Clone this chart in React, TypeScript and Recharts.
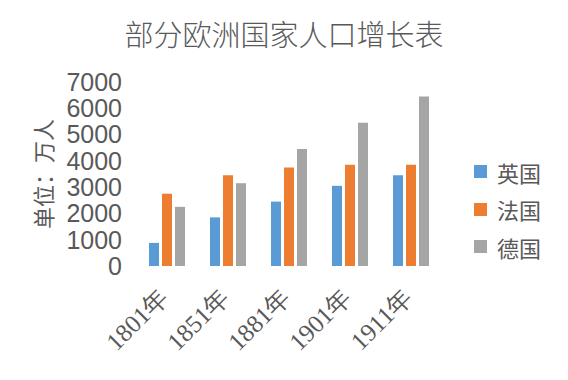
import React from "react";
import { BarChart, Bar, XAxis, YAxis, Legend } from "recharts";

const categories = ["1801年", "1851年", "1881年", "1901年", "1911年"];
const britain = [880, 1850, 2450, 3050, 3450];
const france = [2750, 3450, 3750, 3850, 3850];
const germany = [2250, 3150, 4450, 5450, 6450];
const yTicks = [0, 1000, 2000, 3000, 4000, 5000, 6000, 7000];
const seriesNames = ["英国", "法国", "德国"];
const seriesColors = ["#5B9BD5", "#ED7D31", "#A5A5A5"];

const data = categories.map((c, i) => ({
  name: c,
  英国: britain[i],
  法国: france[i],
  德国: germany[i],
}));

const GRAY = "#595959";

const XTick = (props: any) => {
  const { x, y, payload } = props;
  const ax = x + 3;
  const ay = y + 25;
  return (
    <text
      x={ax}
      y={ay}
      transform={`rotate(-45, ${ax}, ${ay})`}
      textAnchor="end"
      fill={GRAY}
      style={{ fontSize: 25, fontFamily: "'Liberation Serif', 'Times New Roman', serif" }}
    >
      {payload.value}
    </text>
  );
};

const LegendContent = (props: any) => {
  const items = [...(props.payload || [])].sort(
    (a: any, b: any) => seriesNames.indexOf(a.value) - seriesNames.indexOf(b.value)
  );
  return (
    <div>
      {items.map((p: any) => (
        <div
          key={p.value}
          style={{ display: "flex", alignItems: "center", height: 37.5 }}
        >
          <span
            style={{
              display: "inline-block",
              width: 13,
              height: 13,
              background: p.color,
              marginRight: 10,
            }}
          />
          <span
            style={{
              fontSize: 22,
              color: GRAY,
              fontFamily: "'Noto Sans CJK SC', sans-serif",
              lineHeight: "22px",
            }}
          >
            {p.value}
          </span>
        </div>
      ))}
    </div>
  );
};

export default function App() {
  return (
    <div style={{ position: "absolute", left: 0, top: 0, width: 568, height: 380, background: "#fff" }}>
      <div
        style={{
          position: "absolute",
          left: 0,
          top: 15,
          width: 568,
          textAlign: "center",
          fontSize: 29,
          color: GRAY,
          fontFamily: "'Noto Sans CJK SC', serif",
          fontWeight: 300,
          lineHeight: "36px",
          zIndex: 2,
        }}
      >
        部分欧洲国家人口增长表
      </div>
      <BarChart
        width={568}
        height={380}
        data={data}
        margin={{ top: 82, right: 127, bottom: 84, left: 0 }}
        barSize={10}
        barGap={3}
      >
        <XAxis
          dataKey="name"
          axisLine={false}
          tickLine={false}
          tick={<XTick />}
          interval={0}
          height={30}
        />
        <YAxis
          width={136}
          domain={[0, 7000]}
          ticks={yTicks}
          axisLine={false}
          tickLine={false}
          tickMargin={8}
          interval={0}
          tick={{ fill: GRAY, fontSize: 25, fontFamily: "'Liberation Sans', Arial, sans-serif" }}
          label={{
            content: (p: any) => {
              const vb = p.viewBox;
              const cx = 42;
              const cy = vb.y + vb.height / 2;
              return (
                <text
                  x={cx}
                  y={cy}
                  transform={`rotate(-90, ${cx}, ${cy})`}
                  textAnchor="middle"
                  dominantBaseline="central"
                  fill={GRAY}
                  fontSize={22}
                  fontFamily="'Noto Sans CJK SC', sans-serif"
                >
                  单位：万人
                </text>
              );
            },
          }}
        />
        <Legend
          layout="vertical"
          align="center"
          verticalAlign="middle"
          content={<LegendContent />}
          wrapperStyle={{ left: 474, top: 153, width: 90 }}
        />
        {seriesNames.map((s, i) => (
          <Bar key={s} dataKey={s} fill={seriesColors[i]} isAnimationActive={false} />
        ))}
      </BarChart>
    </div>
  );
}
